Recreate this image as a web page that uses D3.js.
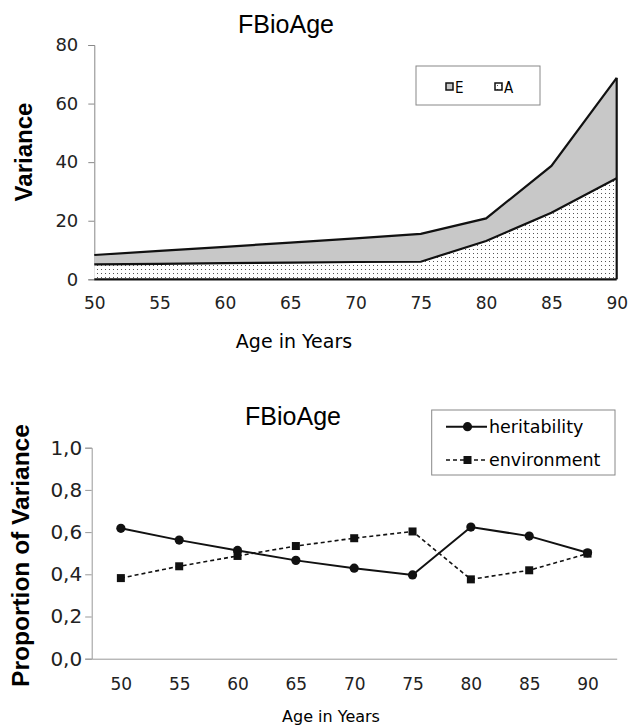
<!DOCTYPE html>
<html>
<head>
<meta charset="utf-8">
<script src="https://cdn.jsdelivr.net/npm/d3@7"></script>
<style>
  body { margin: 0; background: #fff; }
  svg { display: block; }
  .tick text { font-family: "DejaVu Sans", Tahoma, sans-serif; fill: #222; }
</style>
</head>
<body>
<div id="chart"></div>
<script>
// ages on the x axis of both panels
const ages = [50, 55, 60, 65, 70, 75, 80, 85, 90];

// top panel: additive genetic (A) and environmental (E) variance, stacked
const varA = [5.1, 5.3, 5.5, 5.7, 5.9, 6.0, 13.1, 22.7, 34.5];
const varE = [3.2, 4.4, 5.6, 6.8, 8.1, 9.5, 7.7, 16.0, 34.3];

// bottom panel: proportions of variance
const heritability = [0.618, 0.562, 0.513, 0.466, 0.429, 0.397, 0.624, 0.581, 0.502];
const environment  = [0.382, 0.438, 0.487, 0.534, 0.571, 0.603, 0.376, 0.419, 0.498];

const varTicks = [0, 20, 40, 60, 80];
const propTicks = [0, 0.2, 0.4, 0.6, 0.8, 1.0];

const svg = d3.select('#chart')
    .append('svg')
    .attr('width', 629)
    .attr('height', 728);

// dotted fill for the A area
const defs = svg.append('defs');
const pat = defs.append('pattern')
    .attr('id', 'dots')
    .attr('patternUnits', 'userSpaceOnUse')
    .attr('width', 4)
    .attr('height', 4);
pat.append('rect').attr('width', 4).attr('height', 4).attr('fill', '#fff');
pat.append('rect').attr('x', 1).attr('y', 1).attr('width', 1).attr('height', 1).attr('fill', '#555');

// ---------- top panel ----------
const x1 = d3.scaleLinear().domain([50, 90]).range([94.3, 616.7]);
const y1 = d3.scaleLinear().domain([0, 80]).range([279.3, 45]);

const stackData = ages.map((a, i) => ({ age: a, A: varA[i], E: varE[i] }));
const series = d3.stack().keys(['A', 'E'])(stackData);

const area = d3.area()
    .x(d => x1(d.data.age))
    .y0(d => y1(d[0]))
    .y1(d => y1(d[1]));

const topG = svg.append('g');

// y axis
topG.append('g')
    .attr('transform', `translate(${x1(50)},0)`)
    .call(d3.axisLeft(y1).tickValues(varTicks).tickSize(6).tickPadding(10))
    .call(g => g.selectAll('.domain, .tick line').attr('stroke', '#888'))
    .call(g => g.selectAll('.tick text').style('font-size', '18px'));

topG.selectAll('path.area')
    .data(series)
    .join('path')
    .attr('class', 'area')
    .attr('d', area)
    .attr('fill', d => d.key === 'A' ? 'url(#dots)' : '#c8c8c8')
    .attr('stroke', 'none');

// outlines: top of each layer, right edge, baseline
const edge = d3.line().x(d => x1(d.data.age)).y(d => y1(d[1]));
series.forEach(s => {
    topG.append('path')
        .attr('d', edge(s))
        .attr('fill', 'none')
        .attr('stroke', '#111')
        .attr('stroke-width', 2.2);
});
const last = series[1][ages.length - 1];
topG.append('line')
    .attr('x1', x1(90)).attr('x2', x1(90))
    .attr('y1', y1(last[1])).attr('y2', y1(0))
    .attr('stroke', '#111').attr('stroke-width', 2.2);
topG.append('line')
    .attr('x1', x1(50)).attr('x2', x1(90))
    .attr('y1', y1(0)).attr('y2', y1(0))
    .attr('stroke', '#111').attr('stroke-width', 2.2);

// x tick labels
topG.append('g')
    .attr('transform', `translate(0,${y1(0)})`)
    .call(d3.axisBottom(x1).tickValues(ages).tickSize(0).tickPadding(18))
    .call(g => g.select('.domain').remove())
    .call(g => g.selectAll('.tick text').style('font-size', '17px'));

topG.append('text')
    .attr('x', 286).attr('y', 33)
    .attr('text-anchor', 'middle')
    .style('font-family', '"Liberation Sans", Arial, sans-serif')
    .style('font-size', '25px')
    .text('FBioAge');

topG.append('text')
    .attr('transform', 'translate(32,152) rotate(-90)')
    .attr('text-anchor', 'middle')
    .style('font-family', '"Liberation Sans", Arial, sans-serif')
    .style('font-size', '24px')
    .style('font-weight', 'bold')
    .text('Variance');

topG.append('text')
    .attr('x', 294).attr('y', 348)
    .attr('text-anchor', 'middle')
    .style('font-family', '"DejaVu Sans", Tahoma, sans-serif')
    .style('font-size', '19px')
    .text('Age in Years');

// legend (E, A)
const leg1 = topG.append('g');
leg1.append('rect')
    .attr('x', 416).attr('y', 66).attr('width', 124).attr('height', 39)
    .attr('fill', '#fff').attr('stroke', '#888');
[{ key: 'E', x: 446, fill: '#c8c8c8' }, { key: 'A', x: 495, fill: 'url(#dots)' }].forEach(d => {
    leg1.append('rect')
        .attr('x', d.x).attr('y', 83).attr('width', 7).attr('height', 7)
        .attr('fill', d.fill).attr('stroke', '#111').attr('stroke-width', 1.5);
    leg1.append('text')
        .attr('x', d.x + 9).attr('y', 92.5)
        .style('font-family', '"DejaVu Sans Condensed", "DejaVu Sans", sans-serif')
        .style('font-stretch', 'condensed')
        .style('font-size', '15px')
        .text(d.key);
});

// ---------- bottom panel ----------
const x2 = d3.scalePoint().domain(ages).range([91.7, 616.7]).padding(0.5);
const y2 = d3.scaleLinear().domain([0, 1]).range([658.7, 447.7]);

const botG = svg.append('g');

botG.append('g')
    .attr('transform', `translate(91.7,0)`)
    .call(d3.axisLeft(y2).tickValues(propTicks).tickSize(6.5).tickPadding(3)
        .tickFormat(d => d3.format('.1f')(d).replace('.', ',')))
    .call(g => g.selectAll('.domain, .tick line').attr('stroke', '#999'))
    .call(g => g.selectAll('.tick text').style('font-size', '20px'));

botG.append('g')
    .attr('transform', `translate(0,${y2(0)})`)
    .call(d3.axisBottom(x2).tickSize(0).tickPadding(19))
    .call(g => g.select('.domain').attr('stroke', '#999'))
    .call(g => g.selectAll('.tick text').style('font-size', '17px'));

const line2 = d3.line().x((d, i) => x2(ages[i])).y(d => y2(d));

botG.append('path')
    .attr('d', line2(environment))
    .attr('fill', 'none').attr('stroke', '#111')
    .attr('stroke-width', 1.6).attr('stroke-dasharray', '4,3');
botG.append('path')
    .attr('d', line2(heritability))
    .attr('fill', 'none').attr('stroke', '#111')
    .attr('stroke-width', 2);

botG.selectAll('rect.env')
    .data(environment)
    .join('rect')
    .attr('class', 'env')
    .attr('x', (d, i) => x2(ages[i]) - 4)
    .attr('y', d => y2(d) - 4)
    .attr('width', 8).attr('height', 8)
    .attr('fill', '#111');
botG.selectAll('circle.her')
    .data(heritability)
    .join('circle')
    .attr('class', 'her')
    .attr('cx', (d, i) => x2(ages[i]))
    .attr('cy', d => y2(d))
    .attr('r', 4.6)
    .attr('fill', '#111');

botG.append('text')
    .attr('x', 293).attr('y', 425)
    .attr('text-anchor', 'middle')
    .style('font-family', '"Liberation Sans", Arial, sans-serif')
    .style('font-size', '25px')
    .text('FBioAge');

botG.append('text')
    .attr('transform', 'translate(29,555.5) rotate(-90)')
    .attr('text-anchor', 'middle')
    .style('font-family', '"Liberation Sans", Arial, sans-serif')
    .style('font-size', '24.5px')
    .style('font-weight', 'bold')
    .text('Proportion of Variance');

botG.append('text')
    .attr('x', 331).attr('y', 722)
    .attr('text-anchor', 'middle')
    .style('font-family', '"DejaVu Sans", Tahoma, sans-serif')
    .style('font-size', '16px')
    .text('Age in Years');

// legend (heritability, environment)
const leg2 = botG.append('g');
leg2.append('rect')
    .attr('x', 431.7).attr('y', 410).attr('width', 183.3).attr('height', 65)
    .attr('fill', '#fff').attr('stroke', '#888');
const legItems = [
    { name: 'heritability', y: 426.7, dash: null, shape: 'circle' },
    { name: 'environment', y: 460, dash: '4,3', shape: 'square' }
];
legItems.forEach(d => {
    leg2.append('line')
        .attr('x1', 446).attr('x2', 487)
        .attr('y1', d.y).attr('y2', d.y)
        .attr('stroke', '#111')
        .attr('stroke-width', d.dash ? 1.6 : 2)
        .attr('stroke-dasharray', d.dash);
    if (d.shape === 'circle') {
        leg2.append('circle').attr('cx', 467.5).attr('cy', d.y).attr('r', 4.6).attr('fill', '#111');
    } else {
        leg2.append('rect').attr('x', 463.5).attr('y', d.y - 4).attr('width', 8).attr('height', 8).attr('fill', '#111');
    }
    leg2.append('text')
        .attr('x', 489).attr('y', d.y + 6)
        .style('font-family', '"DejaVu Sans", Tahoma, sans-serif')
        .style('font-size', '17.5px')
        .text(d.name);
});
</script>
</body>
</html>
